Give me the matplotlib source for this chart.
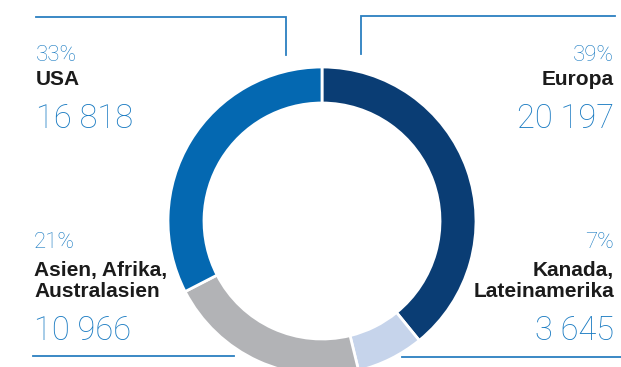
import matplotlib
matplotlib.use("Agg")
import matplotlib.pyplot as plt

# regional split of the total, clockwise from the top
regions = ["Europa", "Kanada,\nLateinamerika", "Asien, Afrika,\nAustralasien", "USA"]
values = [20197, 3645, 10966, 16818]
shares = ["39%", "7%", "21%", "33%"]
value_labels = ["20 197", "3 645", "10 966", "16 818"]
colors = ["#0a3d74", "#c6d4eb", "#b2b3b6", "#0468b1"]

W, H = 621, 367
BLUE = "#1a7bc2"
LINE = "#2b7fc0"
DARK = "#1b1b1b"


def py(y):
    # pixel rows are counted from the top
    return H - y


fig = plt.figure(figsize=(W / 100, H / 100), dpi=100)
ax = fig.add_axes([0, 0, 1, 1])

ax.pie(values, colors=colors, startangle=90, counterclock=False,
       center=(322, py(221)), radius=154, frame=True,
       wedgeprops=dict(width=36, edgecolor="white", linewidth=2))
ax.set_xlim(0, W)
ax.set_ylim(0, H)
ax.set_aspect("equal")
ax.axis("off")

# bracket lines
ax.plot([36, 286, 286], [py(17), py(17), py(55)], color=LINE, lw=1.3, solid_joinstyle="miter")
ax.plot([361, 361, 615], [py(54), py(16), py(16)], color=LINE, lw=1.3, solid_joinstyle="miter")
ax.plot([33, 234], [py(356), py(356)], color=LINE, lw=1.3)
ax.plot([402, 621], [py(357), py(357)], color=LINE, lw=1.3)

light = dict(family="Roboto", fontweight="light", color=BLUE)
bold = dict(family="Liberation Sans", fontweight="bold", color=DARK)


def block(x, ha, share, name, number, y_share, y_name, y_num):
    ax.text(x, py(y_share), share, ha=ha, va="baseline", fontsize=16, **light)
    ax.text(x, py(y_name), name, ha=ha, va="baseline", fontsize=15,
            linespacing=1.12, **bold)
    ax.text(x, py(y_num), number, ha=ha, va="baseline", fontsize=23.5, **light)


# USA / Europa at the top, the two smaller regions below
block(36, "left", shares[3], regions[3], value_labels[3], 61, 85, 128)
block(614, "right", shares[0], regions[0], value_labels[0], 61, 85, 128)
block(34, "left", shares[2], regions[2], value_labels[2], 248, 297, 340)
block(614, "right", shares[1], regions[1], value_labels[1], 248, 297, 340)

fig.savefig("out.png", dpi=100)
